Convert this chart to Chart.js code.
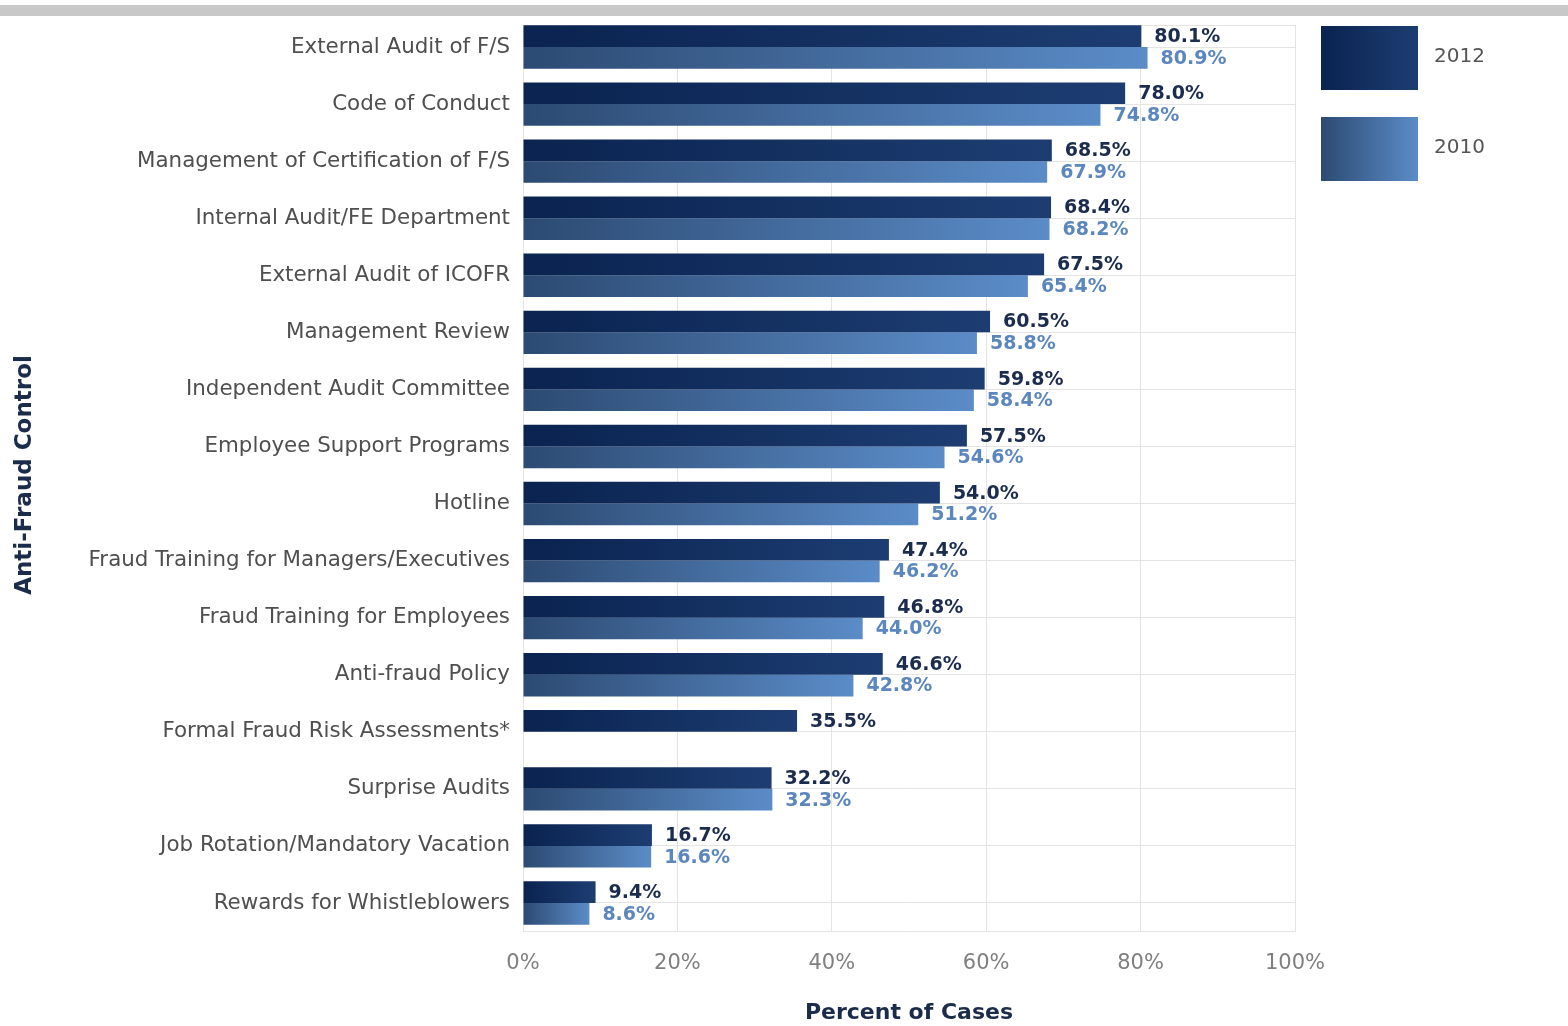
<!DOCTYPE html>
<html>
<head>
<meta charset="utf-8">
<title>Anti-Fraud Controls</title>
<script src="https://cdn.jsdelivr.net/npm/chart.js@4.4.1/dist/chart.umd.min.js"></script>
<style>
  html, body { margin: 0; padding: 0; background: #ffffff; }
  #band { position: absolute; left: 0; top: 5px; width: 1568px; height: 11px; background: #c8c8c8; }
  #wrap { position: absolute; left: 0; top: 0; width: 1568px; height: 1026px; }
</style>
</head>
<body>
<div id="band"></div>
<div id="wrap"><canvas id="chart" width="1568" height="1026"></canvas></div>
<script>
// Anti-fraud controls in place, percent of cases
const controls = [
  'External Audit of F/S',
  'Code of Conduct',
  'Management of Certification of F/S',
  'Internal Audit/FE Department',
  'External Audit of ICOFR',
  'Management Review',
  'Independent Audit Committee',
  'Employee Support Programs',
  'Hotline',
  'Fraud Training for Managers/Executives',
  'Fraud Training for Employees',
  'Anti-fraud Policy',
  'Formal Fraud Risk Assessments*',
  'Surprise Audits',
  'Job Rotation/Mandatory Vacation',
  'Rewards for Whistleblowers'
];
const pct2012 = [80.1, 78.0, 68.5, 68.4, 67.5, 60.5, 59.8, 57.5, 54.0, 47.4, 46.8, 46.6, 35.5, 32.2, 16.7, 9.4];
const pct2010 = [80.9, 74.8, 67.9, 68.2, 65.4, 58.8, 58.4, 54.6, 51.2, 46.2, 44.0, 42.8, null, 32.3, 16.6, 8.6];
const seriesNames = ['2012', '2010'];
const xTickValues = [0, 20, 40, 60, 80, 100];

// Colour ramps (left -> right along each bar) and value-label colours
const ramps = [
  ['#0a2350', '#1d3d72'],
  ['#2c4a72', '#5b8cc8']
];
const valueColors = ['#1b2c4e', '#5b86be'];

function barFill(index) {
  return (c) => {
    const xs = c.chart.scales.x;
    if (!xs || c.raw == null || c.type !== 'data') return ramps[index][0];
    const x0 = xs.getPixelForValue(0);
    const x1 = xs.getPixelForValue(c.raw);
    if (!Number.isFinite(x0) || !Number.isFinite(x1)) return ramps[index][0];
    const g = c.chart.ctx.createLinearGradient(x0, 0, Math.max(x1, x0 + 1), 0);
    g.addColorStop(0, ramps[index][0]);
    g.addColorStop(1, ramps[index][1]);
    return g;
  };
}

// Value labels to the right of every bar
const valueLabels = {
  id: 'valueLabels',
  afterDatasetsDraw(chart) {
    const ctx = chart.ctx;
    ctx.save();
    ctx.font = 'bold 19px "DejaVu Sans"';
    ctx.textAlign = 'left';
    ctx.textBaseline = 'middle';
    chart.data.datasets.forEach((ds, i) => {
      const meta = chart.getDatasetMeta(i);
      meta.data.forEach((bar, j) => {
        const v = ds.data[j];
        if (v == null) return;
        ctx.fillStyle = valueColors[i];
        ctx.fillText(v.toFixed(1) + '%', bar.x + 13, bar.y + 1);
      });
    });
    ctx.restore();
  }
};

// Top frame of the plot (set slightly inside the first category) and the swatch legend
const FRAME_INSET = 6.5;
const frameAndLegend = {
  id: 'frameAndLegend',
  beforeDatasetsDraw(chart) {
    const { ctx, chartArea } = chart;
    const y = Math.round(chartArea.top + FRAME_INSET) + 0.5;
    ctx.save();
    ctx.fillStyle = '#ffffff';
    ctx.fillRect(chartArea.left - 1, chartArea.top - 1, chartArea.right - chartArea.left + 2, y - chartArea.top + 0.5);
    ctx.strokeStyle = gridColor;
    ctx.lineWidth = 1;
    ctx.beginPath();
    ctx.moveTo(chartArea.left, y);
    ctx.lineTo(chartArea.right, y);
    ctx.stroke();
    ctx.restore();
  },
  afterDraw(chart) {
    const { ctx, chartArea } = chart;
    const left = chartArea.right + 26;
    const boxW = 97, boxH = 64;
    const tops = [26, 117];
    ctx.save();
    chart.data.datasets.forEach((ds, i) => {
      const top = tops[i];
      const g = ctx.createLinearGradient(left, 0, left + boxW, 0);
      g.addColorStop(0, ramps[i][0]);
      g.addColorStop(1, ramps[i][1]);
      ctx.fillStyle = g;
      ctx.fillRect(left, top, boxW, boxH);
      ctx.fillStyle = '#555555';
      ctx.font = '20px "DejaVu Sans"';
      ctx.textAlign = 'left';
      ctx.textBaseline = 'middle';
      ctx.fillText(ds.label, left + boxW + 16, top + boxH / 2 - 1);
    });
    ctx.restore();
  }
};

const gridColor = '#e4e4e4';

new Chart(document.getElementById('chart'), {
  type: 'bar',
  data: {
    labels: controls,
    datasets: [
      { label: seriesNames[0], data: pct2012, backgroundColor: barFill(0) },
      { label: seriesNames[1], data: pct2010, backgroundColor: barFill(1) }
    ]
  },
  options: {
    indexAxis: 'y',
    responsive: false,
    devicePixelRatio: 1,
    animation: false,
    events: [],
    datasets: { bar: { categoryPercentage: 0.76, barPercentage: 1.0, borderWidth: 0 } },
    layout: { padding: { left: 0, top: 18.5, right: 273, bottom: 0 } },
    plugins: { legend: { display: false }, tooltip: { enabled: false } },
    scales: {
      x: {
        min: 0,
        max: 100,
        afterBuildTicks(scale) { scale.ticks = xTickValues.map(v => ({ value: v })); },
        afterFit(scale) { scale.height = 94.5; },
        grid: { color: gridColor, drawTicks: false },
        border: { color: gridColor },
        ticks: {
          padding: 19,
          color: '#7f7f7f',
          font: { family: 'DejaVu Sans', size: 21 },
          callback: (v) => v + '%'
        },
        title: {
          display: true,
          text: 'Percent of Cases',
          color: '#1b2c4a',
          font: { family: 'DejaVu Sans', size: 22, weight: 'bold', lineHeight: 1 },
          padding: { top: 0, bottom: 2 }
        }
      },
      y: {
        afterFit(scale) {
          scale.width = 523;
          scale.paddingTop = 0;
          scale.paddingBottom = 0;
        },
        grid: { color: gridColor, drawTicks: false, offset: false },
        border: { color: gridColor },
        ticks: {
          padding: 13,
          color: '#4f4f4f',
          autoSkip: false,
          font: { family: 'DejaVu Sans', size: 21.4 }
        },
        title: {
          display: true,
          text: 'Anti-Fraud Control',
          color: '#1b2c4a',
          font: { family: 'DejaVu Sans', size: 23, weight: 'bold', lineHeight: 1.2 },
          padding: { top: 11, bottom: 0 }
        }
      }
    }
  },
  plugins: [valueLabels, frameAndLegend]
});
</script>
</body>
</html>
